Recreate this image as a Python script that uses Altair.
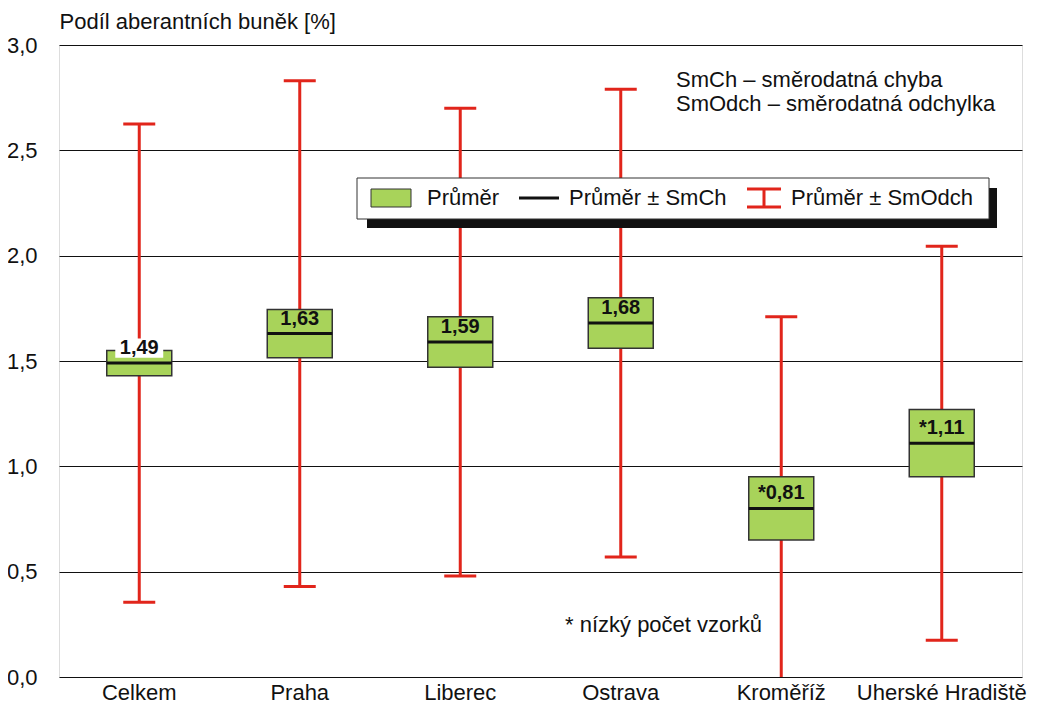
import altair as alt
import pandas as pd

categories = ["Celkem", "Praha", "Liberec", "Ostrava", "Kroměříž", "Uherské Hradiště"]
means = [1.49, 1.63, 1.59, 1.68, 0.80, 1.11]
se = [0.06, 0.115, 0.12, 0.12, 0.15, 0.16]
sd = [1.135, 1.20, 1.11, 1.11, 0.91, 0.935]
labels = ["1,49", "1,63", "1,59", "1,68", "*0,81", "*1,11"]
y_ticks = [0.0, 0.5, 1.0, 1.5, 2.0, 2.5, 3.0]

df = pd.DataFrame({"cat": categories, "mean": means, "se": se, "sd": sd, "label": labels})
df["se_lo"] = df["mean"] - df["se"]
df["se_hi"] = df["mean"] + df["se"]
df["sd_lo"] = df["mean"] - df["sd"]
df["sd_hi"] = df["mean"] + df["sd"]

FONT = "Liberation Sans"
GREEN = "#a8d35a"
RED = "#e1251b"
FS = 22

xenc = alt.X("cat:N", sort=categories,
             scale=alt.Scale(paddingInner=0, paddingOuter=0),
             axis=alt.Axis(title=None, labelAngle=0, labelFontSize=FS, labelColor="#111",
                           labelFont=FONT, ticks=False, domain=False, labelPadding=5))
yscale = alt.Scale(domain=[0, 3], nice=False, zero=False)
yaxis = alt.Axis(values=y_ticks, labelExpr="replace(format(datum.value, '.1f'), '.', ',')",
                 grid=True, gridColor="#111", gridWidth=1, ticks=False, domain=False,
                 labelFontSize=FS, labelFont=FONT, labelColor="#111", labelPadding=22,
                 title="Podíl aberantních buněk [%]", titleAngle=0, titleAlign="left",
                 titleX=0, titleY=-24, titleBaseline="middle", titleFontSize=FS,
                 titleFontWeight="normal", titleFont=FONT, titleColor="#111")

base = alt.Chart(df)

whisker = base.mark_rule(color=RED, strokeWidth=3, clip=True, opacity=1).encode(
    x=xenc, y=alt.Y("sd_lo:Q", scale=yscale, axis=yaxis), y2="sd_hi:Q")
cap_hi = base.mark_tick(color=RED, thickness=3, size=32, clip=True, opacity=1).encode(
    x=xenc, y=alt.Y("sd_hi:Q", scale=yscale))
cap_lo = base.mark_tick(color=RED, thickness=3, size=32, clip=True, opacity=1).encode(
    x=xenc, y=alt.Y("sd_lo:Q", scale=yscale))
box = base.mark_bar(width=65, color=GREEN, stroke="#333", strokeWidth=1.5, opacity=1).encode(
    x=xenc, y=alt.Y("se_lo:Q", scale=yscale), y2="se_hi:Q")
mean_line = base.mark_tick(color="#111", thickness=3, size=65, opacity=1).encode(
    x=xenc, y=alt.Y("mean:Q", scale=yscale))
label_bg = base.transform_filter(alt.datum.cat == "Celkem").mark_point(
    shape="M-1,-0.4H1V0.4H-1Z", filled=True, color="white", opacity=1, size=2300, yOffset=-15
).encode(x=xenc, y=alt.Y("mean:Q", scale=yscale))
label = base.mark_text(fontSize=20, fontWeight="bold", font=FONT, color="#111",
                       baseline="middle", dy=-15).encode(
    x=xenc, y=alt.Y("mean:Q", scale=yscale), text="label:N")

one = alt.Data(values=[{"a": 1}])
def txt(s, x, y, align="left"):
    return alt.Chart(one).mark_text(text=s, fontSize=FS, font=FONT, color="#111",
                                    align=align, baseline="middle").encode(
        x=alt.value(x), y=alt.value(y))

leg_shadow = alt.Chart(one).mark_rect(color="#111").encode(
    x=alt.value(308), x2=alt.value(938), y=alt.value(143), y2=alt.value(183))
leg_box = alt.Chart(one).mark_rect(fill="white", stroke="#333", strokeWidth=1).encode(
    x=alt.value(298), x2=alt.value(930), y=alt.value(133), y2=alt.value(174))
leg_sw = alt.Chart(one).mark_rect(fill=GREEN, stroke="#333", strokeWidth=1).encode(
    x=alt.value(312), x2=alt.value(352), y=alt.value(144), y2=alt.value(162))
leg_line = alt.Chart(one).mark_rule(color="#111", strokeWidth=3).encode(
    x=alt.value(460), x2=alt.value(500), y=alt.value(153))
leg_i_v = alt.Chart(one).mark_rule(color=RED, strokeWidth=3).encode(
    x=alt.value(705), y=alt.value(143), y2=alt.value(163))
leg_i_t = alt.Chart(one).mark_rule(color=RED, strokeWidth=3).encode(
    x=alt.value(688), x2=alt.value(722), y=alt.value(144))
leg_i_b = alt.Chart(one).mark_rule(color=RED, strokeWidth=3).encode(
    x=alt.value(688), x2=alt.value(722), y=alt.value(162))

chart = alt.layer(
    whisker, cap_hi, cap_lo, box, mean_line, label_bg, label,
    leg_shadow, leg_box, leg_sw, leg_line, leg_i_v, leg_i_t, leg_i_b,
    txt("Průměr", 368, 153), txt("Průměr ± SmCh", 510, 153), txt("Průměr ± SmOdch", 732, 153),
    txt("SmCh – směrodatná chyba", 617, 35), txt("SmOdch – směrodatná odchylka", 617, 59),
    txt("* nízký počet vzorků", 506, 580),
).properties(
    width=963, height=632,
    autosize=alt.AutoSizeParams(type="none"),
    padding={"left": 51, "top": 37, "right": 7, "bottom": 29},
).configure_view(stroke="#555", strokeWidth=1.5).configure(font=FONT, background="white")

chart.save("out.html", embed_options={"renderer": "svg", "actions": False})
